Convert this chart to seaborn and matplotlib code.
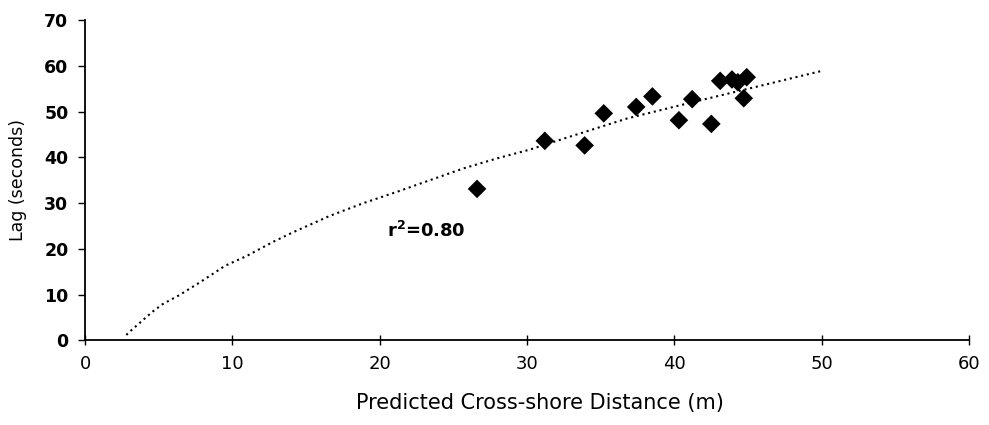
from matplotlib import pyplot as plt
import pandas as pd
import seaborn as sns

sns.set_style("ticks")
plt.rcParams['font.family'] = ['DejaVu Sans']
plt.rcParams['text.color'] = 'black'
plt.rcParams['axes.labelcolor'] = 'black'
plt.rcParams['xtick.color'] = 'black'
plt.rcParams['ytick.color'] = 'black'

# observed points
distance = [26.6, 31.2, 33.9, 35.2, 37.4, 38.5, 40.3, 41.2, 42.5, 43.1, 43.9, 44.3, 44.9, 44.7]
lag = [33.1, 43.6, 42.6, 49.6, 51.0, 53.3, 48.1, 52.7, 47.3, 56.7, 57.0, 56.4, 57.5, 52.9]

# trendline
trend_x = [2.8, 3.2, 4.55, 5.25, 6.4, 7.8, 9.5, 11.0, 12.8, 14.1, 16.6, 18.9, 21.2,
           23.4, 25.7, 28.0, 30.2, 32.5, 36.8, 41.3, 45.8, 49.9]
trend_y = [1.2, 2.4, 6.2, 7.9, 9.9, 12.7, 16.3, 18.5, 21.6, 23.6, 27.2, 30.0, 32.5,
           35.0, 37.6, 39.8, 41.7, 44.1, 48.5, 52.1, 55.6, 58.8]

x_ticks = [0, 10, 20, 30, 40, 50, 60]
y_ticks = [0, 10, 20, 30, 40, 50, 60, 70]

points = pd.DataFrame({'distance': distance, 'lag': lag})
trend = pd.DataFrame({'x': trend_x, 'y': trend_y})

fig = plt.figure(figsize=(9.89, 4.25), dpi=100)
ax = fig.add_axes([0.086, 0.199, 0.894, 0.754])

g = sns.lineplot(data=trend, x='x', y='y', ax=ax, color='black', linewidth=1.5, sort=True)
g.lines[0].set_dashes((1.0, 1.8))
sns.scatterplot(data=points, x='distance', y='lag', ax=ax, marker='D', s=90,
                color='black', edgecolor='none', zorder=3)

ax.set_xlim(0, 60)
ax.set_ylim(0, 70)
ax.set_xticks(x_ticks)
ax.set_yticks(y_ticks)
ax.tick_params(axis='x', direction='inout', length=7, width=1, labelsize=13, pad=7)
ax.tick_params(axis='y', direction='out', length=5, width=1, labelsize=12.5, pad=7)
for lab in ax.get_yticklabels():
    lab.set_fontweight('bold')

ax.set_xlabel('Predicted Cross-shore Distance (m)', fontsize=15)
ax.set_ylabel('Lag (seconds)', fontsize=12.5, labelpad=12)
ax.xaxis.set_label_coords(0.515, -0.165)

ax.text(20.5, 24.0, r'$\mathbf{r^{2}}$=0.80', fontsize=13, fontweight='bold',
        va='center', ha='left')

sns.despine(ax=ax)
for s in ['left', 'bottom']:
    ax.spines[s].set_linewidth(1.3)
    ax.spines[s].set_color('black')

plt.savefig('out.png', dpi=100)
